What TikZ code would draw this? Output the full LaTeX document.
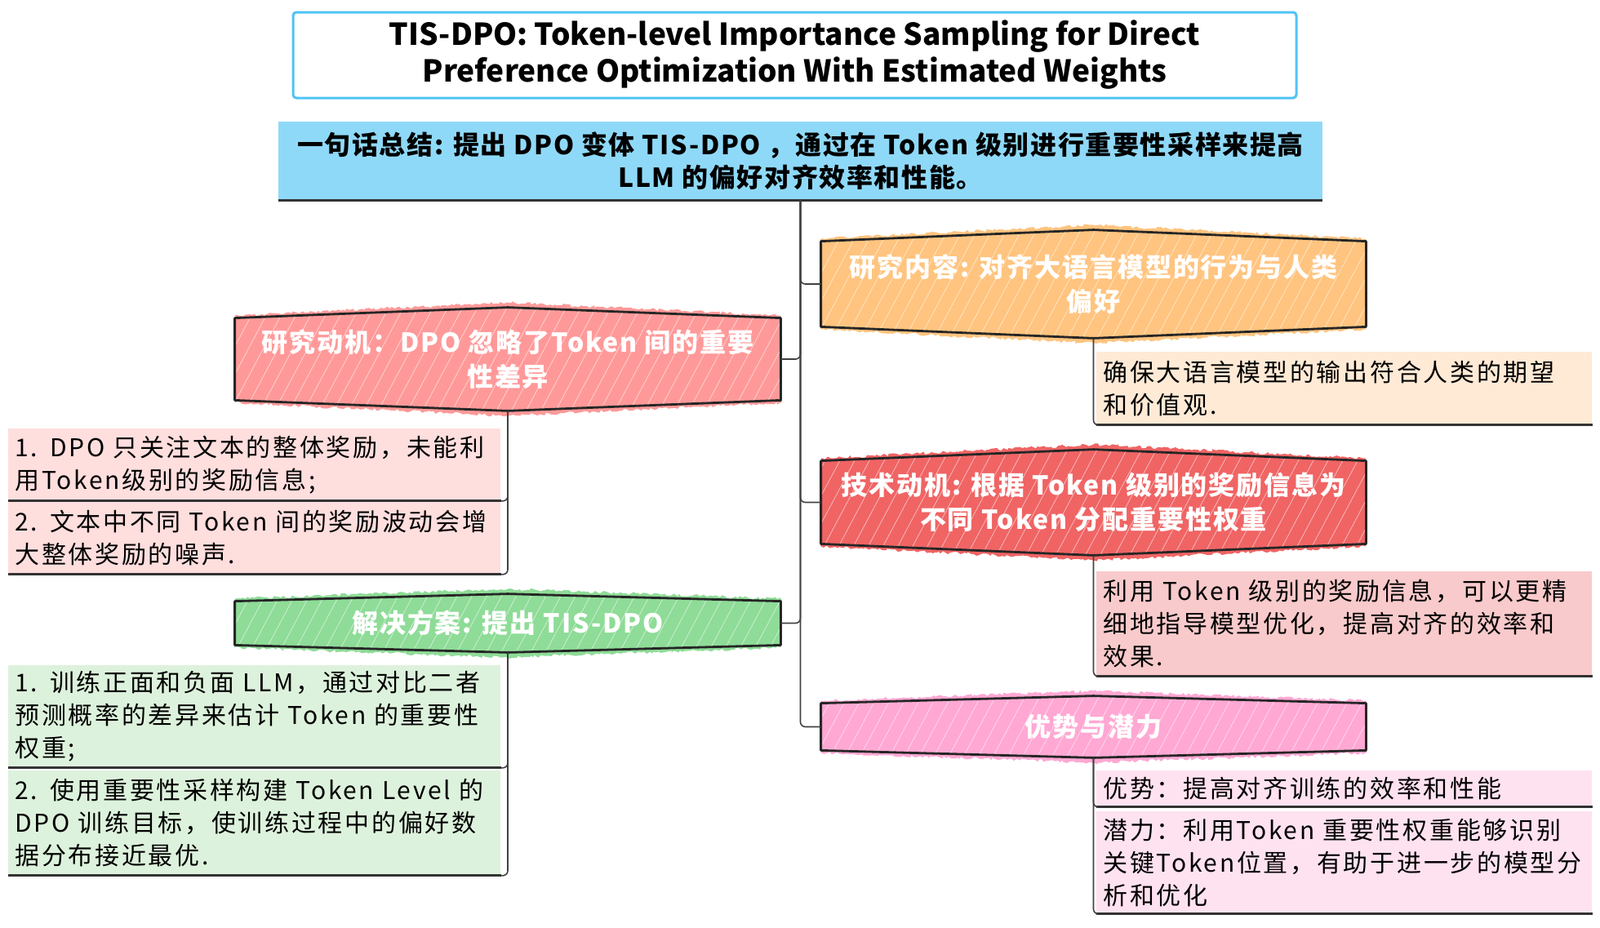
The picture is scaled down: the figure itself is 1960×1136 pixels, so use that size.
\documentclass[tikz,border=0pt]{standalone}
\usepackage{fontspec}
\setmainfont{Noto Sans CJK SC}
\newfontfamily\leaffont{Noto Sans CJK SC}[LetterSpace=9]
\newfontfamily\headfont{Noto Sans CJK SC}[LetterSpace=6]
\newfontfamily\sumfont{Noto Sans CJK SC}[LetterSpace=5]
\usepackage{tikz}
\usetikzlibrary{backgrounds,decorations.pathmorphing,patterns.meta}
\definecolor{titleline}{HTML}{4FC3F7}
\definecolor{sumfill}{HTML}{8FD9F8}
\definecolor{motivfill}{HTML}{FF9999}
\definecolor{motivleaf}{HTML}{FFDEDE}
\definecolor{solfill}{HTML}{8EDC97}
\definecolor{solleaf}{HTML}{DDF2DC}
\definecolor{contfill}{HTML}{FFC47F}
\definecolor{contleaf}{HTML}{FFEAD6}
\definecolor{techfill}{HTML}{F06464}
\definecolor{techleaf}{HTML}{F9CACB}
\definecolor{advfill}{HTML}{FFA8D3}
\definecolor{advleaf}{HTML}{FFE2F0}
\newcommand{\hexbg}[3]{%
\begin{scope}[on background layer]
\fill[#2,decorate,decoration={random steps,segment length=1.5pt,amplitude=0.9pt}]
([yshift=1.5pt]#1.north west)--([yshift=#3+3pt]#1.north)--([yshift=1.5pt]#1.north east)
--([yshift=-1.5pt]#1.south east)--([yshift=-#3-3pt]#1.south)--([yshift=-1.5pt]#1.south west)--cycle;
\fill[pattern={Lines[angle=62,distance=8pt,line width=0.4pt]},pattern color=white,opacity=0.55]
(#1.north west)--([yshift=#3]#1.north)--(#1.north east)--(#1.south east)--([yshift=-#3]#1.south)--(#1.south west)--cycle;
\draw[hexline](#1.north west)--([yshift=#3]#1.north)--(#1.north east)--(#1.south east)--([yshift=-#3]#1.south)--(#1.south west)--cycle;
\end{scope}}

\begin{document}
\begin{tikzpicture}[x=0.5pt,y=-0.5pt,
hexline/.style={line width=1.4pt,black!85,line join=round},
hexnode/.style={text=white,font={\headfont\bfseries\fontsize{16}{21}\selectfont},align=center,inner sep=0pt},
link/.style={line width=0.8pt,black!75,rounded corners=3pt},
under/.style={line width=1.4pt,black!80},
leaf/.style={fill=#1,anchor=north west,inner xsep=4pt,inner ysep=0pt,align=left,font={\leaffont\fontsize{15}{20}\selectfont}},
leftleaf/.style={leaf=#1,text width=293.5pt},
rightleaf/.style={leaf=#1,text width=295.5pt}]
\useasboundingbox(0,0)rectangle(1960,1136);
\node[draw=titleline,line width=1.5pt,rounded corners=2pt,minimum width=614.5pt,minimum height=52.5pt,align=center,font={\bfseries\fontsize{18.5}{22.5}\selectfont}](title)at(973.5,67.5){TIS-DPO: Token-level Importance Sampling for Direct\\Preference Optimization With Estimated Weights};
\node[fill=sumfill,minimum width=639.5pt,minimum height=48pt,inner sep=0pt,align=center,font={\sumfont\bfseries\fontsize{16}{20}\selectfont}](sum)at(980.5,197){一句话总结: 提出 DPO 变体 TIS-DPO ，通过在 Token 级别进行重要性采样来提高\\LLM 的偏好对齐效率和性能。};
\draw[under](sum.south west)--(sum.south east);

\node[hexnode,minimum width=334pt,minimum height=50pt](motiv)at(622,440){研究动机：DPO 忽略了Token 间的重要\\性差异};
\node[hexnode,minimum width=334pt,minimum height=26.5pt](sol)at(622,763.5){解决方案: 提出 TIS-DPO};
\node[hexnode,minimum width=333.5pt,minimum height=52pt](content)at(1339.5,348){研究内容: 对齐大语言模型的行为与人类\\偏好};
\node[hexnode,minimum width=333.5pt,minimum height=50.5pt](tech)at(1339.5,615.5){技术动机: 根据 Token 级别的奖励信息为\\不同 Token 分配重要性权重};
\node[hexnode,minimum width=333.5pt,minimum height=28.5pt](adv)at(1339.5,890.5){优势与潜力};
\hexbg{motiv}{motivfill}{6.5pt}
\hexbg{sol}{solfill}{4.5pt}
\hexbg{content}{contfill}{7pt}
\hexbg{tech}{techfill}{7pt}
\hexbg{adv}{advfill}{4.5pt}

\node[leftleaf=motivleaf,minimum height=44pt](m1)at(10,525){1. DPO 只关注文本的整体奖励，未能利\\用Token级别的奖励信息;};
\node[leftleaf=motivleaf,minimum height=44pt](m2)at(10,615){2. 文本中不同 Token 间的奖励波动会增\\大整体奖励的噪声.};
\node[leftleaf=solleaf,minimum height=62.5pt](s1)at(10,815){1. 训练正面和负面 LLM，通过对比二者\\预测概率的差异来估计 Token 的重要性\\权重;};
\node[leftleaf=solleaf,minimum height=64pt](s2)at(10,944){2. 使用重要性采样构建 Token Level 的\\DPO 训练目标，使训练过程中的偏好数\\据分布接近最优.};
\node[rightleaf=contleaf,minimum height=44.5pt](c1)at(1343,431){确保大语言模型的输出符合人类的期望\\和价值观.};
\node[rightleaf=techleaf,minimum height=64pt](t1)at(1343,700){利用 Token 级别的奖励信息，可以更精\\细地指导模型优化，提高对齐的效率和\\效果.};
\node[rightleaf=advleaf,minimum height=22pt](a1)at(1343,944){优势：提高对齐训练的效率和性能};
\node[rightleaf=advleaf,minimum height=62.5pt](a2)at(1343,994){潜力：利用Token 重要性权重能够识别\\关键Token位置，有助于进一步的模型分\\析和优化};
\foreach \n in {m1,m2,s1,s2,c1,t1,a1,a2}
\draw[under](\n.south west)--(\n.south east);

\draw[link](sum.south)|-(content.west);
\draw[link](sum.south)|-(motiv.east);
\draw[link](sum.south)|-(tech.west);
\draw[link](sum.south)|-(sol.east);
\draw[link](sum.south)|-(adv.west);
\draw[link]([yshift=-6.5pt]motiv.south)|-(m1.south east);
\draw[link]([yshift=-6.5pt]motiv.south)|-(m2.south east);
\draw[link]([yshift=-4.5pt]sol.south)|-(s1.south east);
\draw[link]([yshift=-4.5pt]sol.south)|-(s2.south east);
\draw[link]([yshift=-7pt]content.south)|-(c1.south west);
\draw[link]([yshift=-7pt]tech.south)|-(t1.south west);
\draw[link]([yshift=-4.5pt]adv.south)|-(a1.south west);
\draw[link]([yshift=-4.5pt]adv.south)|-(a2.south west);
\end{tikzpicture}
\end{document}
